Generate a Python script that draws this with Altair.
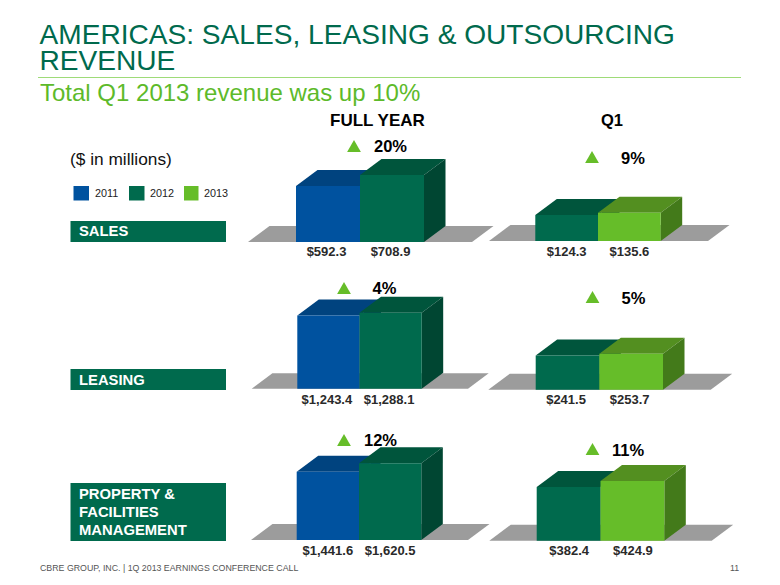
import altair as alt
import pandas as pd

FONT = "Liberation Sans"
GREEN = "#006a4d"
LIME = "#66bd29"

# ---- values ----
years = ["2011", "2012", "2013"]
sales_fy = [592.3, 708.9]
sales_q1 = [124.3, 135.6]
leasing_fy = [1243.4, 1288.1]
leasing_q1 = [241.5, 253.7]
prop_fy = [1441.6, 1620.5]
prop_q1 = [382.4, 424.9]
sales_growth = ["20%", "9%"]
leasing_growth = ["4%", "5%"]
prop_growth = ["12%", "11%"]
section_names = [["SALES"], ["LEASING"], ["PROPERTY &", "FACILITIES", "MANAGEMENT"]]

# ---- styles ----
FACE = {
    "2011": ("#00529f", "#00437f", "#003a6d"),
    "2012": ("#006a4d", "#00553c", "#004632"),
    "2013": ("#66bd29", "#538f20", "#437a1a"),
}
FLOOR = "#9c9c9c"

# ---- layout: image pixels of each panel ----
# x0, x2 = left/right of the bar pair; base/unit = zero line and px per $M
# fl, fr, ft = floor left, floor right, floor top; lab = label centre, labdx = shift
panels = [
    dict(vals=sales_fy, yrs=("2011", "2012"), x0=296, x2=424, base=242, unit=0.0945, fl=248, fr=472, ft=226, lab=252, dx=-1.5),
    dict(vals=sales_q1, yrs=("2012", "2013"), x0=535.3, x2=660.7, base=241, unit=0.209, fl=489, fr=708, ft=225, lab=252, dx=0),
    dict(vals=leasing_fy, yrs=("2011", "2012"), x0=297.3, x2=421.7, base=388.7, unit=0.0589, fl=251.7, fr=468, ft=373.3, lab=399.5, dx=-1.5),
    dict(vals=leasing_q1, yrs=("2012", "2013"), x0=535.7, x2=663, base=389.7, unit=0.1415, fl=488.3, fr=710.7, ft=373.7, lab=399.5, dx=-1.5),
    dict(vals=prop_fy, yrs=("2011", "2012"), x0=296.7, x2=421.3, base=540, unit=0.0473, fl=251, fr=468, ft=524, lab=551, dx=0),
    dict(vals=prop_q1, yrs=("2012", "2013"), x0=536.7, x2=664.3, base=540.7, unit=0.1405, fl=489.3, fr=711.7, ft=524.7, lab=551, dx=0.5),
]
DX, DY = 21.5, 16.0
OFF = 8  # page margin


def panel_layers(p):
    """All marks of one panel: x in bar units, y in $ millions, placed by panel's own scales."""
    v = p["vals"]
    bw = (p["x2"] - p["x0"]) / 2
    top = max(v)
    xs = alt.Scale(domain=[0, 2], range=[p["x0"] - OFF, p["x2"] - OFF], nice=False, zero=False)
    ys = alt.Scale(domain=[0, top], range=[p["base"] - OFF, p["base"] - OFF - top * p["unit"]], nice=False, zero=False)
    X = lambda f: alt.X(f"{f}:Q", scale=xs, axis=None)
    Y = lambda f: alt.Y(f"{f}:Q", scale=ys, axis=None)
    ddx, ddy = DX / bw, DY / p["unit"]
    out = []

    # floor
    fl, fr = (p["fl"] - p["x0"]) / bw, (p["fr"] - p["x0"]) / bw
    fh = (p["base"] - p["ft"]) / p["unit"]
    fs = fh * p["unit"] / DY * DX / bw
    floor = pd.DataFrame({"y": [0, fh], "a": [fl, fl + fs], "b": [fr, fr + fs]})
    out.append(alt.Chart(floor).mark_area(orient="horizontal", color=FLOOR, opacity=1).encode(
        x=X("a"), x2="b", y=Y("y")))

    for i, (val, yr) in enumerate(zip(v, p["yrs"])):
        front, topc, side = FACE[yr]
        tdf = pd.DataFrame({"y": [val, val + ddy], "a": [i, i + ddx], "b": [i + 1, i + 1 + ddx]})
        out.append(alt.Chart(tdf).mark_area(orient="horizontal", color=topc, opacity=1).encode(
            x=X("a"), x2="b", y=Y("y")))
        sdf = pd.DataFrame({"x": [i + 1, i + 1 + ddx], "lo": [0, ddy], "hi": [val, val + ddy]})
        out.append(alt.Chart(sdf).mark_area(orient="vertical", color=side, opacity=1).encode(
            x=X("x"), y=Y("lo"), y2="hi"))
        fdf = pd.DataFrame({"a": [i], "b": [i + 1], "lo": [0], "hi": [val]})
        out.append(alt.Chart(fdf).mark_rect(color=front, opacity=1).encode(
            x=X("a"), x2="b", y=Y("lo"), y2="hi"))

    # value labels under the bars
    for i, val in enumerate(v):
        ldf = pd.DataFrame({"x": [i + 0.5], "t": [f"${val:,.1f}"]})
        out.append(alt.Chart(ldf).mark_text(
            font=FONT, fontSize=13, fontWeight="bold", color="#2a2a2a", align="center",
            baseline="middle", dx=p["dx"],
        ).encode(x=X("x"), y=alt.value(p["lab"] - OFF), text="t:N"))
    return out


def txt(s, x, y, size, color="#000000", weight="normal"):
    return alt.Chart(pd.DataFrame({"t": [s]})).mark_text(
        font=FONT, fontSize=size, color=color, fontWeight=weight, align="left", baseline="alphabetic",
    ).encode(x=alt.value(x - OFF), y=alt.value(y - OFF), text="t:N")


def box(x1, x2, y1, y2, color):
    return alt.Chart(pd.DataFrame({"k": [0]})).mark_rect(color=color, opacity=1).encode(
        x=alt.value(x1 - OFF), x2=alt.value(x2 - OFF), y=alt.value(y1 - OFF), y2=alt.value(y2 - OFF))


def tri(x, y):
    return alt.Chart(pd.DataFrame({"k": [0]})).mark_point(
        shape="triangle-up", filled=True, size=190, color=LIME, opacity=1,
    ).encode(x=alt.value(x - OFF), y=alt.value(y - OFF))


layers = []
# titles
layers += [
    txt("AMERICAS: SALES, LEASING & OUTSOURCING", 39.5, 43.5, 28.1, GREEN),
    txt("REVENUE", 39.5, 70, 28.1, GREEN),
    alt.Chart(pd.DataFrame({"k": [0]})).mark_rule(color="#9edb78", strokeWidth=1).encode(
        x=alt.value(30), x2=alt.value(733), y=alt.value(69.5)),
    txt("Total Q1 2013 revenue was up 10%", 40, 100.5, 24, "#5dba2a"),
    txt("FULL YEAR", 330, 125.5, 17, "#000000", "bold"),
    txt("Q1", 601, 125.5, 16.5, "#000000", "bold"),
    txt("($ in millions)", 70, 165, 17.3, "#111111"),
]
# legend
for yr, (x1, x2, tx) in zip(years, [(73.5, 89, 95), (129, 144.5, 150), (184, 198.5, 204)]):
    layers.append(box(x1, x2, 186, 200.5, FACE[yr][0]))
    layers.append(txt(yr, tx, 197, 10.8, "#222222"))
# section labels
for names, (y1, y2), bases in zip(section_names,
                                  [(221, 242), (369, 390), (483, 541)],
                                  [[236], [385], [499, 517.3, 535]]):
    layers.append(box(70.5, 226, y1, y2, GREEN))
    for n, b in zip(names, bases):
        layers.append(txt(n, 79, b, 14.8, "#ffffff", "bold"))
# bars
for p in panels:
    layers += panel_layers(p)
# growth markers
for g, (tx, ty, lx, ly) in zip(
    sales_growth + leasing_growth + prop_growth,
    [(354, 146, 374, 152), (592, 157, 621, 164),
     (344, 288, 372.5, 294), (592.5, 297, 621.5, 304),
     (344, 440, 364, 446), (592.5, 449, 612, 456)],
):
    layers.append(tri(tx, ty))
    layers.append(txt(g, lx, ly, 16.5, "#000000", "bold"))
# footer
layers += [
    txt("CBRE GROUP, INC. | 1Q 2013 EARNINGS CONFERENCE CALL", 40, 570.5, 8.8, "#555555"),
    txt("11", 730, 570.5, 8.8, "#555555"),
]

chart = (
    alt.layer(*layers)
    .resolve_scale(x="independent", y="independent")
    .properties(width=764, height=569, padding=0, autosize="none", background="#ffffff")
    .configure_view(stroke=None)
)
chart.save("out.html", embed_options={"renderer": "svg", "actions": False})
